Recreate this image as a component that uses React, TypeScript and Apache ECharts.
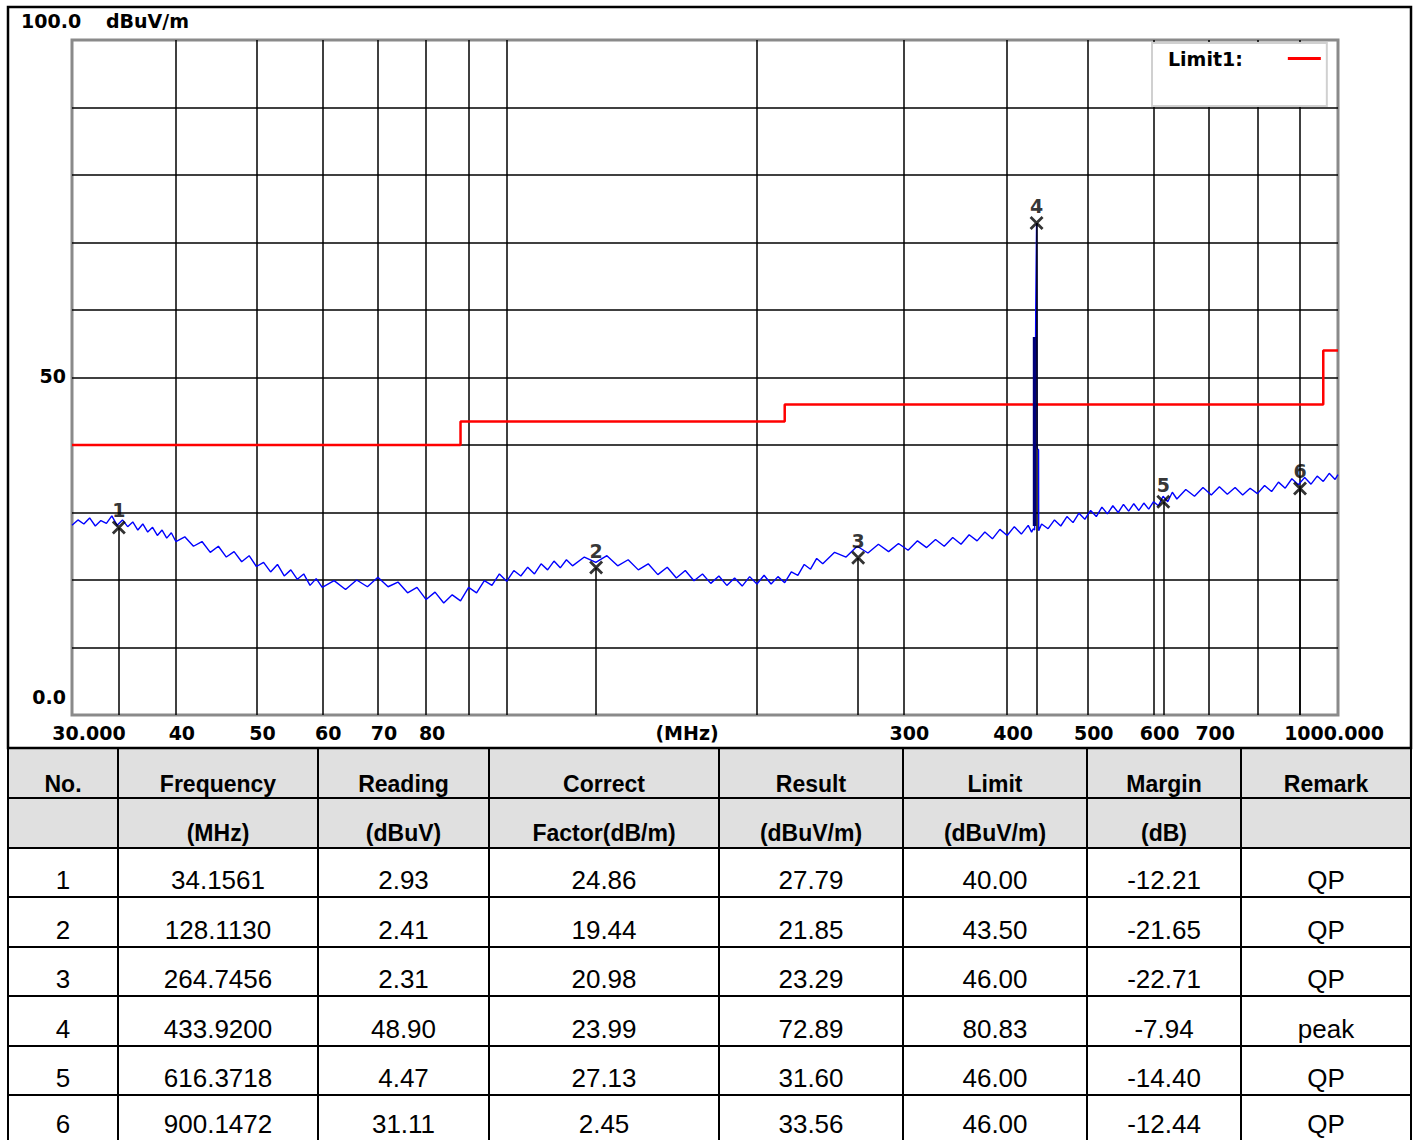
import React, { useEffect, useRef } from 'react';
import * as echarts from 'echarts';

// ---- measured trace (frequency MHz, level dBuV/m) ----
const traceFreqMHz = [
  30.0, 30.5, 31.0, 31.5, 32.0, 32.5, 33.0, 33.5, 34.0, 34.5, 35.0, 35.5, 36.0, 36.5, 37.0, 37.5, 38.0, 38.5, 39.0, 39.5,
  40, 41, 42, 43, 44, 45, 46, 47, 48, 49, 50, 51, 52, 53, 54, 55, 56, 57, 58, 59, 60,
  62, 64, 66, 68, 70, 72, 74, 76, 78, 80, 82, 84, 86, 88, 90, 92, 94, 96, 98, 100,
  102, 104, 106, 108, 110, 112, 114, 116, 118, 120,
  124, 128, 132, 136, 140, 144, 148, 152, 156, 160, 164, 168, 172, 176, 180, 184, 188, 192, 196, 200,
  204, 208, 212, 216, 220, 224, 228, 232, 236, 240,
  248, 256, 264, 272, 280, 288, 296, 304, 312, 320, 328, 336, 344, 352, 360, 368, 376, 384, 392, 400,
  408, 416, 424, 428, 430, 431.6, 432.9, 433.92, 434.3, 434.6, 435.2, 436.3, 436.5, 440, 448, 456, 464, 472, 480,
  488, 496, 504, 512, 520, 528, 536, 544, 552, 560, 568, 576, 584, 592, 600, 608, 616, 624, 632, 640,
  656, 672, 688, 704, 720, 736, 752, 768, 784, 800, 816, 832, 848, 864, 880, 896, 912, 928, 944, 960, 976, 992, 1000,
];
const traceLevel = [
  28.1, 28.9, 28.3, 29.2, 28.0, 28.8, 28.4, 29.5, 28.1, 28.9, 27.9, 28.6, 27.4, 28.3, 27.1, 27.8, 26.6, 27.4, 26.2, 27.0,
  25.7, 26.4, 25.0, 25.7, 24.1, 25.0, 23.4, 24.2, 22.7, 23.6, 22.0, 22.6, 21.2, 22.3, 20.6, 21.5, 20.1, 20.9, 19.2, 20.2, 18.9,
  19.9, 18.6, 20.0, 19.0, 20.4, 19.0, 19.7, 18.1, 18.9, 17.1, 18.2, 16.6, 17.8, 16.9, 18.9, 18.1, 19.9, 19.2, 20.9, 19.8,
  21.4, 20.6, 21.9, 20.9, 22.4, 21.5, 22.8, 21.8, 23.0, 22.1,
  23.4, 22.6, 23.6, 22.1, 23.0, 21.5, 22.4, 20.8, 21.9, 20.3, 21.4, 19.9, 20.9, 19.5, 20.6, 19.2, 20.3, 19.1, 20.5, 19.4,
  20.7, 19.4, 20.5, 19.6, 21.2, 20.7, 22.3, 21.6, 23.2, 22.4,
  24.1, 23.4, 25.0, 24.0, 25.3, 24.2, 25.4, 24.4, 25.8, 24.8, 26.0, 25.0, 26.3, 25.3, 26.7, 25.8, 27.1, 26.1, 27.5, 26.6,
  27.9, 26.8, 28.1, 27.1, 27.6, 27.4, 59.6, 72.89, 59.4, 39.6, 39.4, 39.3, 27.3, 28.3, 27.6, 28.9, 28.0, 29.4, 28.5,
  29.9, 29.0, 30.3, 29.4, 30.8, 29.8, 31.0, 30.0, 31.2, 30.2, 31.3, 30.3, 31.4, 30.5, 31.6, 31.0, 32.4, 31.6, 33.0, 32.0,
  33.4, 32.4, 33.7, 32.6, 33.8, 32.7, 33.7, 32.6, 33.6, 32.8, 34.0, 33.1, 34.5, 33.6, 35.0, 34.1, 35.2, 34.2, 35.4, 34.6, 35.8, 34.9, 35.6,
];
// max-hold sweep burst at the 434 MHz carrier
const burstFreqMHz = [431.5, 431.5];
const burstLevel = [28.0, 56.0];

// ---- limit line ----
const limitFreqMHz = [30, 88, 88, 216, 216, 960, 960, 1000];
const limitLevel = [40, 40, 43.5, 43.5, 46, 46, 54, 54];

// ---- axes ----
const xGridMHz = [30, 40, 50, 60, 70, 80, 90, 100, 200, 300, 400, 500, 600, 700, 800, 900, 1000];
const xLabelMHz = [30, 40, 50, 60, 70, 80, 300, 400, 500, 600, 700, 1000];

// ---- marker table ----
const markerNo = [1, 2, 3, 4, 5, 6];
const markerFreq = [34.1561, 128.113, 264.7456, 433.92, 616.3718, 900.1472];
const markerReading = [2.93, 2.41, 2.31, 48.9, 4.47, 31.11];
const markerFactor = [24.86, 19.44, 20.98, 23.99, 27.13, 2.45];
const markerResult = [27.79, 21.85, 23.29, 72.89, 31.6, 33.56];
const markerLimit = [40.0, 43.5, 46.0, 80.83, 46.0, 46.0];
const markerMargin = [-12.21, -21.65, -22.71, -7.94, -14.4, -12.44];
const markerRemark = ['QP', 'QP', 'QP', 'peak', 'QP', 'QP'];

const headerTop = ['No.', 'Frequency', 'Reading', 'Correct', 'Result', 'Limit', 'Margin', 'Remark'];
const headerUnit = ['', '(MHz)', '(dBuV)', 'Factor(dB/m)', '(dBuV/m)', '(dBuV/m)', '(dB)', ''];

const CF = 'DejaVu Sans';
const TF = "'Liberation Sans', Arial, sans-serif";

function buildOption() {
  const colX = [8, 118, 318, 489, 719, 903, 1087, 1241, 1411];
  const rowY = [748, 798, 848, 897, 947, 996, 1046, 1095];
  const tableBottom = 1140;
  const g: any[] = [];
  // chart frame
  g.push({ type: 'rect', shape: { x: 8, y: 7, width: 1403, height: 741 }, style: { fill: 'none', stroke: '#000', lineWidth: 2.5 }, z: 1 });
  // header background
  g.push({ type: 'rect', shape: { x: 8, y: 748, width: 1403, height: 100 }, style: { fill: '#e0e0e0' }, z: 0 });
  rowY.forEach((y) => g.push({ type: 'line', shape: { x1: 8, y1: y, x2: 1411, y2: y }, style: { stroke: '#000', lineWidth: 2 }, z: 2 }));
  colX.forEach((x) => g.push({ type: 'line', shape: { x1: x, y1: 748, x2: x, y2: tableBottom }, style: { stroke: '#000', lineWidth: 2 }, z: 2 }));
  const centers = colX.slice(0, -1).map((x, i) => (x + colX[i + 1]) / 2);
  const txt = (s: string, x: number, y: number, bold: boolean, size: number) => ({
    type: 'text', x, y, z: 3,
    style: { text: s, fill: '#000', font: `${bold ? 'bold ' : ''}${size}px ${TF}`, align: 'center', verticalAlign: 'middle' },
  });
  headerTop.forEach((s, i) => g.push(txt(s, centers[i], 784, true, 23)));
  headerUnit.forEach((s, i) => s && g.push(txt(s, centers[i], 833, true, 23)));
  const rowCenters = [880, 930, 979, 1029, 1078, 1124];
  markerNo.forEach((n, r) => {
    const cells = [
      String(n), markerFreq[r].toFixed(4), markerReading[r].toFixed(2), markerFactor[r].toFixed(2),
      markerResult[r].toFixed(2), markerLimit[r].toFixed(2), markerMargin[r].toFixed(2), markerRemark[r],
    ];
    cells.forEach((s, i) => g.push(txt(s, centers[i], rowCenters[r], false, 26)));
  });

  const labelFont = { fontFamily: CF, fontWeight: 'bold', fontSize: 19, color: '#000' };

  return {
    animation: false,
    backgroundColor: '#fff',
    title: [
      { text: '100.0', left: 21, top: 11, padding: 0, textStyle: labelFont },
      { text: 'dBuV/m', left: 106, top: 11, padding: 0, textStyle: labelFont },
    ],
    legend: {
      data: ['Limit1:'], left: 1152, top: 43, align: 'right', icon: 'rect', itemWidth: 33, itemHeight: 3,
      padding: [6, 6, 38, 16], backgroundColor: '#fff', borderColor: '#d0d0d0', borderWidth: 2, selectedMode: false,
      textStyle: { ...labelFont, padding: [0, 40, 0, 0] },
    },
    grid: { left: 72, top: 40, width: 1266, height: 675, show: true, borderColor: '#8a8a8a', borderWidth: 3, backgroundColor: '#fff' },
    xAxis: {
      type: 'log', logBase: 10, min: 30, max: 1000,
      axisLine: { show: false },
      axisTick: { show: false, customValues: xGridMHz },
      splitLine: { show: true, showMinLine: false, showMaxLine: false, lineStyle: { color: '#000', width: 1.5 } },
      axisLabel: {
        customValues: xLabelMHz, margin: 8, showMinLabel: true, showMaxLabel: true, hideOverlap: false,
        ...labelFont,
        formatter: (v: number) => {
          const r = Math.round(v);
          if (r === 30) return '{f|30.000}';
          if (r === 1000) return '{l|1000.000}';
          return '{n|' + r + '}';
        },
        rich: {
          f: { ...labelFont, padding: [0, 0, 0, 34] },
          n: { ...labelFont, padding: [0, 0, 0, 12] },
          l: { ...labelFont, padding: [0, 8, 0, 0] },
        },
      },
      name: '(MHz)', nameLocation: 'middle', nameGap: 8, nameMoveOverlap: false,
      nameTextStyle: { ...labelFont, verticalAlign: 'top', padding: [0, 36, 0, 0] },
    },
    yAxis: {
      type: 'value', min: 0, max: 100, interval: 10,
      axisLine: { show: false }, axisTick: { show: false },
      splitLine: { show: true, showMinLine: false, showMaxLine: false, lineStyle: { color: '#000', width: 1.5 } },
      axisLabel: {
        margin: 6, ...labelFont,
        formatter: (v: number) => (v === 0 ? '{lo|0.0}' : v === 50 ? '{m|50}' : ''),
        rich: { lo: { ...labelFont, padding: [0, 0, 36, 0] }, m: { ...labelFont, padding: [0, 0, 4, 0] } },
      },
    },
    graphic: g,
    series: [
      {
        name: 'Limit1:', type: 'line', data: limitFreqMHz.map((f, i) => [f, limitLevel[i]]),
        symbol: 'none', lineStyle: { color: '#ff0000', width: 2.5 }, itemStyle: { color: '#ff0000' }, z: 3,
      },
      {
        name: 'trace', type: 'line', data: traceFreqMHz.map((f, i) => [f, traceLevel[i]]),
        symbol: 'none', lineStyle: { color: '#0000ff', width: 1.4 }, z: 4,
      },
      {
        name: 'burst', type: 'line', data: burstFreqMHz.map((f, i) => [f, burstLevel[i]]),
        symbol: 'none', lineStyle: { color: '#00007a', width: 3.5 }, z: 4,
      },
      {
        name: 'markers', type: 'scatter', data: markerFreq.map((f, i) => [f, markerResult[i]]),
        symbol: 'path://M0,0L10,10M10,0L0,10', symbolSize: [12, 12],
        itemStyle: { color: 'none', borderColor: '#000', borderWidth: 2.8 }, z: 5,
        label: {
          show: true, position: 'top', distance: -1, fontFamily: CF, fontWeight: 'bold', fontSize: 19, color: '#000',
          formatter: (p: any) => String(markerNo[p.dataIndex]),
        },
        markLine: {
          silent: true, symbol: ['none', 'none'], label: { show: false },
          lineStyle: { color: '#000', width: 1.5, type: 'solid' },
          data: markerFreq.map((f, i) => [{ coord: [f, 0] }, { coord: [f, markerResult[i]] }]),
        },
      },
    ],
  };
}

export default function App() {
  const ref = useRef<HTMLDivElement>(null);
  useEffect(() => {
    const chart = echarts.init(ref.current!, null, { renderer: 'svg' });
    chart.setOption(buildOption() as any);
    return () => chart.dispose();
  }, []);
  return <div ref={ref} style={{ position: 'absolute', left: 0, top: 0, width: 1415, height: 1140, background: '#fff' }} />;
}
